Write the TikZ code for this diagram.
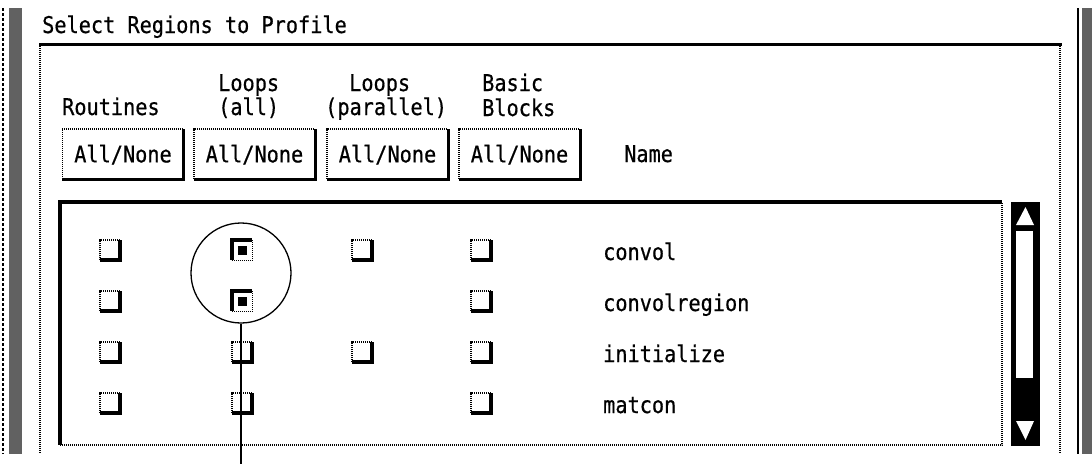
\documentclass[tikz,border=0pt]{standalone}
\usepackage{fontspec}
\newfontfamily\uifont[FakeStretch=0.88, FakeBold=0.6]{DejaVu Sans Mono}
\begin{document}
\begin{tikzpicture}[x=1pt,y=-1pt,
  txt/.style={font=\uifont\fontsize{23}{26}\selectfont, inner sep=0pt, anchor=base west},
  btn/.style={font=\uifont\fontsize{23}{26}\selectfont, inner sep=0pt, minimum width=121pt, minimum height=50pt, text height=16.8pt, text depth=0pt},
  cbox/.style={inner sep=0pt, minimum size=20pt},
  halft/.style={line width=1.6pt, dash pattern=on 1pt off 1pt, black},
  solidedge/.style={line width=3pt, black},
  winedge/.style={line width=1.5pt, black},
  winbar/.style={fill=black!62},
]
\useasboundingbox (0,0) rectangle (1092,464);

% window borders
\draw[winedge, dash pattern=on 3pt off 2pt] (3,8) -- (3,454);
\fill[winbar] (9,8) rectangle (22,454);
\draw[winedge] (1078,8) -- (1078,454);
\fill[winbar] (1082,8) rectangle (1092,454);

% group frame
\node[txt] (title) at (42,33) {Select Regions to Profile};
\draw[halft] (40,44) -- (40,454);
\draw[halft, line width=2.8pt] (1060,44) -- (1060,454);
\draw[solidedge] (39,44.5) -- (1061.5,44.5);

% headers
\node[txt] (hR)  at (62,115)  {Routines};
\node[txt] (hL1) at (218,91)  {Loops};
\node[txt] (hL2) at (218,115) {(all)};
\node[txt] (hP1) at (349,91)  {Loops};
\node[txt] (hP2) at (325,115) {(parallel)};
\node[txt] (hB1) at (482,91)  {Basic};
\node[txt] (hB2) at (482,116) {Blocks};
\node[txt] (hN)  at (624,162) {Name};

% buttons
\foreach \nm/\cx in {b1/123, b2/254.5, b3/387.5, b4/519.5}{
  \node[btn] (\nm) at (\cx,154) {All/None};
  \draw[halft] (\nm.south west) |- (\nm.north east);
  \draw[solidedge] (\nm.south west) -| (\nm.north east);
}

% list box
\node[cbox, minimum width=942pt, minimum height=243pt] (list) at (531,323.5) {};
\draw[halft] (list.south west) -| (list.north east);
\draw[line width=3.5pt] (list.south west) |- (list.north east);

% scrollbar
\node[inner sep=0pt, minimum width=29pt, minimum height=244pt, fill=black] (scroll) at (1025.5,324) {};
\fill[white] (1025.5,207) -- (1034,225) -- (1016,225) -- cycle;
\fill[white] (1015.5,231) rectangle (1033,378);
\fill[white] (1016,421) -- (1034,421) -- (1025.5,440) -- cycle;

% unchecked boxes
\foreach \nm/\cx/\cy in {c11/110/250, c12/110/301, c13/110/352, c14/110/403,
                         c23/242/352, c24/242/403,
                         c31/362/250, c33/362/352,
                         c41/481/250, c42/481/301, c43/481/352, c44/481/403}{
  \node[cbox] (\nm) at (\cx,\cy) {};
  \draw[halft, line width=1.4pt] (\nm.south west) |- (\nm.north east);
  \draw[line width=3.5pt] (\nm.south west) -| (\nm.north east);
}
% checked boxes
\foreach \nm/\cx/\cy in {c21/242/250, c22/242/301}{
  \node[cbox] (\nm) at (\cx,\cy) {};
  \draw[halft, line width=1.4pt] (\nm.south west) -| (\nm.north east);
  \draw[line width=4pt] (\nm.south west) |- (\nm.north east);
  \fill (\cx-4.5,\cy-4.5) rectangle (\cx+4.5,\cy+4.5);
}

% names
\node[txt] (n1) at (603,260) {convol};
\node[txt] (n2) at (603,311) {convolregion};
\node[txt] (n3) at (603,362) {initialize};
\node[txt] (n4) at (603,413) {matcon};

% callout
\node[circle, draw, line width=1.3pt, minimum size=100pt, inner sep=0pt] (hl) at (241,273) {};
\coordinate (tail) at (241,464);
\draw[line width=2pt] (hl.south) -- (tail);
\end{tikzpicture}
\end{document}
